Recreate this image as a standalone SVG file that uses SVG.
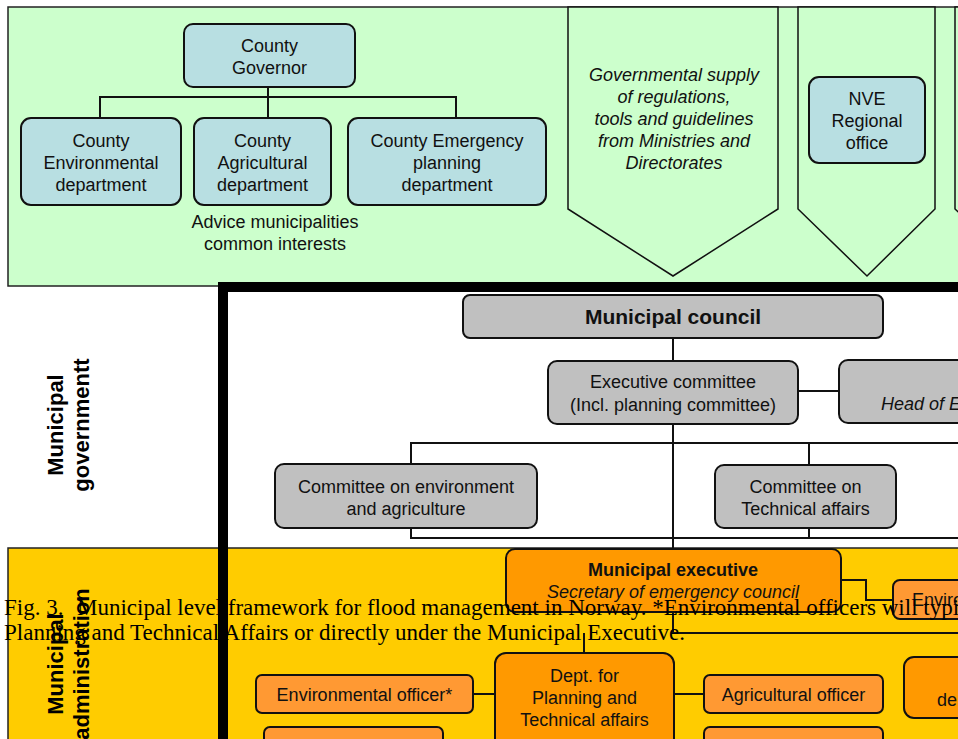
<svg xmlns="http://www.w3.org/2000/svg" width="958" height="739" viewBox="0 0 958 739">
<style>
.t{font-family:"Liberation Sans",Arial,sans-serif;font-size:18px;fill:#111;text-anchor:middle}
.s{text-anchor:start}
.b{font-weight:bold}
.i{font-style:italic}
.box{stroke:#111;stroke-width:2}
.blue{fill:#B8DFE2}
.gray{fill:#C0C0C0}
.or{fill:#FF9900}
.lor{fill:#FF9933}
.ln{fill:none;stroke:#111;stroke-width:2}
.chev{fill:#CCFFCC;stroke:#111;stroke-width:1.5}
.lab{font-family:"Liberation Sans",Arial,sans-serif;font-size:22px;font-weight:bold;fill:#000;text-anchor:middle}
.cap{font-family:"Liberation Serif","Times New Roman",serif;font-size:23px;fill:#000}
</style>
<g id="backgrounds">
<rect x="8" y="7" width="960" height="279" fill="#CCFFCC" stroke="#222" stroke-width="1.5"/>
<rect x="8" y="548" width="960" height="200" fill="#FFCC00" stroke="#222" stroke-width="1.5"/>
</g>
<g id="chevrons">
<polygon class="chev" points="568,7 778,7 778,209 673,276 568,209"/>
<polygon class="chev" points="798,7 935,7 935,209 867,276 798,209"/>
<polygon class="chev" points="955,7 1100,7 1100,209 1027,276 955,209"/>
</g>
<g id="connectors">
<path class="ln" d="M268,87 V97 M100,118 V97 H456 V118 M268,97 V118"/>
<path class="ln" d="M673,338 V361 M798,391 H839 M673,424 V549"/>
<path class="ln" d="M970,443 H411 V538 H970 M809,443 V465 M809,528 V538"/>
<path class="ln" d="M841,580 H866 V600 H893"/>
<path class="ln" d="M673,612 V633 H970 M584,633 V653"/>
<path class="ln" d="M473,694 H495 M674,694 H704"/>
</g>
<g id="thick-frame">
<path d="M223,739 V287 H970" fill="none" stroke="#000" stroke-width="10"/>
</g>
<g id="county-governor">
<rect class="box blue" x="184" y="24" width="171" height="63" rx="9"/>
<text class="t"><tspan x="269.5" y="52">County</tspan><tspan x="269.5" y="74">Governor</tspan></text>
</g>
<g id="county-env">
<rect class="box blue" x="21" y="118" width="160" height="87" rx="10"/>
<text class="t"><tspan x="101" y="147">County</tspan><tspan x="101" y="169">Environmental</tspan><tspan x="101" y="191">department</tspan></text>
</g>
<g id="county-agri">
<rect class="box blue" x="194" y="118" width="137" height="87" rx="10"/>
<text class="t"><tspan x="262.5" y="147">County</tspan><tspan x="262.5" y="169">Agricultural</tspan><tspan x="262.5" y="191">department</tspan></text>
</g>
<g id="county-emergency">
<rect class="box blue" x="348" y="118" width="198" height="87" rx="10"/>
<text class="t"><tspan x="447" y="147">County Emergency</tspan><tspan x="447" y="169">planning</tspan><tspan x="447" y="191">department</tspan></text>
</g>
<g id="advice-label">
<text class="t"><tspan x="275" y="228">Advice municipalities</tspan><tspan x="275" y="250">common interests</tspan></text>
</g>
<g id="gov-supply">
<text class="t i"><tspan x="674" y="81">Governmental supply</tspan><tspan x="674" y="103">of regulations,</tspan><tspan x="674" y="125">tools and guidelines</tspan><tspan x="674" y="147">from Ministries and</tspan><tspan x="674" y="169">Directorates</tspan></text>
</g>
<g id="nve">
<rect class="box blue" x="809" y="77" width="116" height="86" rx="10"/>
<text class="t"><tspan x="867" y="105">NVE</tspan><tspan x="867" y="127">Regional</tspan><tspan x="867" y="149">office</tspan></text>
</g>
<g id="label-government">
<text class="lab" transform="translate(63,425) rotate(-90)"><tspan x="0" y="0">Municipal</tspan><tspan x="0" y="26">governmentt</tspan></text>
</g>
<g id="municipal-council">
<rect class="box gray" x="463" y="295" width="420" height="43" rx="7"/>
<text class="t b" x="673" y="324" style="font-size:21px">Municipal council</text>
</g>
<g id="executive-committee">
<rect class="box gray" x="548" y="361" width="250" height="63" rx="9"/>
<text class="t"><tspan x="673" y="388">Executive committee</tspan><tspan x="673" y="411">(Incl. planning committee)</tspan></text>
</g>
<g id="head-of">
<rect class="box gray" x="839" y="360" width="160" height="63" rx="9"/>
<text class="t i s" x="881" y="410">Head of E</text>
</g>
<g id="committee-env">
<rect class="box gray" x="275" y="464" width="262" height="64" rx="9"/>
<text class="t"><tspan x="406" y="493">Committee on environment</tspan><tspan x="406" y="515">and agriculture</tspan></text>
</g>
<g id="committee-tech">
<rect class="box gray" x="715" y="465" width="181" height="63" rx="9"/>
<text class="t"><tspan x="805.5" y="493">Committee on</tspan><tspan x="805.5" y="515">Technical affairs</tspan></text>
</g>
<g id="label-administration">
<text class="lab" transform="translate(63,664) rotate(-90)"><tspan x="0" y="0">Municipal</tspan><tspan x="0" y="26">administration</tspan></text>
</g>
<g id="municipal-executive">
<rect class="box or" x="506" y="549" width="335" height="63" rx="9"/>
<text class="t b" x="673" y="576">Municipal executive</text>
<text class="t i" x="673" y="598">Secretary of emergency council</text>
</g>
<g id="enviro-right">
<rect class="box lor" x="893" y="580" width="100" height="39" rx="7"/>
<text class="t s" x="912" y="606">Enviro</text>
</g>
<g id="dept-planning">
<rect class="box or" x="495" y="653" width="179" height="100" rx="11"/>
<text class="t"><tspan x="584.5" y="682">Dept. for</tspan><tspan x="584.5" y="704">Planning and</tspan><tspan x="584.5" y="726">Technical affairs</tspan></text>
</g>
<g id="env-officer">
<rect class="box lor" x="256" y="675" width="217" height="38" rx="6"/>
<text class="t" x="364.5" y="701">Environmental officer*</text>
</g>
<g id="agri-officer">
<rect class="box lor" x="704" y="675" width="179" height="38" rx="6"/>
<text class="t" x="793.5" y="701">Agricultural officer</text>
</g>
<g id="box-below-env">
<rect class="box lor" x="264" y="727" width="179" height="30" rx="6"/>
</g>
<g id="box-below-agri">
<rect class="box lor" x="704" y="727" width="179" height="30" rx="6"/>
</g>
<g id="right-dept">
<rect class="box or" x="904" y="657" width="100" height="61" rx="10"/>
<text class="t s" x="937" y="706">de</text>
</g>
<g id="caption">
<text class="cap"><tspan x="4" y="615">Fig. 3.</tspan><tspan x="77" y="615">Municipal level framework for flood management in Norway. *Environmental officers will typi</tspan><tspan x="4" y="640">Planning and Technical Affairs or directly under the Municipal Executive.</tspan></text>
</g>
</svg>
